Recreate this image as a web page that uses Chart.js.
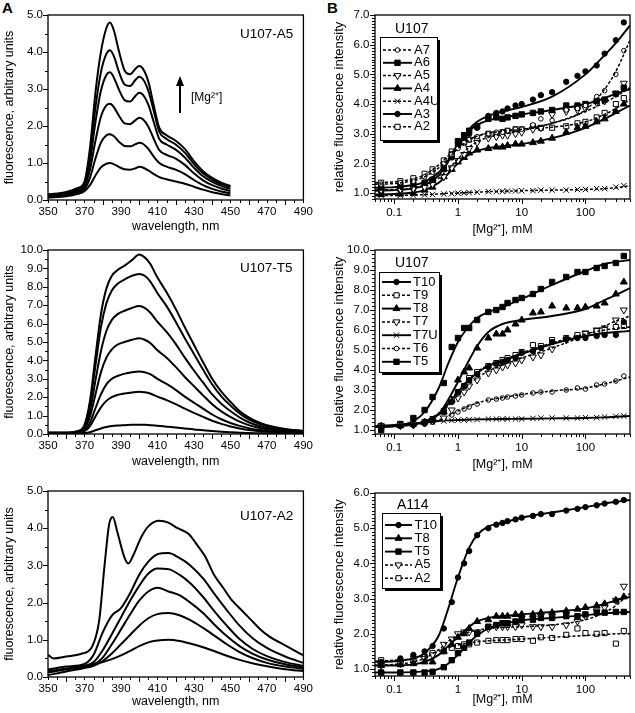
<!DOCTYPE html>
<html>
<head>
<meta charset="utf-8">
<script src="https://cdn.jsdelivr.net/npm/chart.js"></script>
<style>
body { margin: 0; background: #fff; width: 635px; height: 713px; position: relative; overflow: hidden; }
canvas { position: absolute; }
.lbl { position: absolute; font: bold 15px "Liberation Sans", Arial, sans-serif; line-height: 15px; }
</style>
</head>
<body>
<div class="lbl" style="left:2px;top:0px">A</div>
<div class="lbl" style="left:327px;top:0px">B</div>
<script>
// ---- panel A, spectra ----
const specXTicks = [350, 370, 390, 410, 430, 450, 470, 490];
const yTicks5 = [0, 1, 2, 3, 4, 5];
const yTicks10 = [0, 1, 2, 3, 4, 5, 6, 7, 8, 9, 10];

// U107-A5 (1 = lowest Mg2+)
const wlA5 = [350, 360, 366, 370, 373, 376, 379, 382, 384, 386, 389, 392, 395, 398, 400, 402, 405, 408, 411, 415, 420, 425, 430, 435, 440, 445, 450];
const a5_1 = [0.06, 0.1, 0.16, 0.24, 0.4, 0.66, 0.88, 0.98, 1.0, 0.97, 0.89, 0.83, 0.82, 0.86, 0.9, 0.88, 0.8, 0.7, 0.62, 0.56, 0.5, 0.44, 0.36, 0.28, 0.21, 0.16, 0.12];
const a5_2 = [0.08, 0.13, 0.21, 0.3, 0.6, 1.12, 1.55, 1.75, 1.78, 1.73, 1.57, 1.46, 1.45, 1.51, 1.55, 1.52, 1.38, 1.17, 1.0, 0.9, 0.82, 0.7, 0.54, 0.4, 0.3, 0.23, 0.18];
const a5_3 = [0.1, 0.16, 0.25, 0.36, 0.82, 1.6, 2.25, 2.56, 2.6, 2.52, 2.27, 2.07, 2.05, 2.16, 2.22, 2.18, 1.98, 1.65, 1.35, 1.22, 1.12, 0.95, 0.72, 0.53, 0.4, 0.31, 0.24];
const a5_4 = [0.12, 0.18, 0.28, 0.42, 1.05, 2.1, 2.95, 3.38, 3.45, 3.32, 2.97, 2.7, 2.66, 2.82, 2.9, 2.85, 2.58, 2.1, 1.65, 1.5, 1.36, 1.15, 0.87, 0.64, 0.49, 0.38, 0.3];
const a5_5 = [0.14, 0.2, 0.3, 0.46, 1.2, 2.5, 3.45, 3.95, 4.05, 3.9, 3.45, 3.12, 3.08, 3.25, 3.33, 3.27, 2.95, 2.4, 1.85, 1.65, 1.5, 1.28, 0.97, 0.72, 0.55, 0.43, 0.35];
const a5_6 = [0.15, 0.22, 0.32, 0.5, 1.4, 2.9, 4.0, 4.65, 4.8, 4.6, 4.0, 3.5, 3.4, 3.55, 3.62, 3.55, 3.2, 2.55, 1.95, 1.75, 1.6, 1.38, 1.05, 0.78, 0.6, 0.47, 0.38];

// U107-T5
const wlT5 = [350, 360, 366, 370, 373, 376, 379, 382, 385, 388, 392, 396, 400, 403, 406, 410, 415, 420, 425, 430, 435, 440, 445, 450, 455, 460, 465, 470, 480, 490];
const t5_1 = [0.02, 0.02, 0.03, 0.05, 0.1, 0.2, 0.3, 0.38, 0.43, 0.46, 0.48, 0.5, 0.5, 0.5, 0.48, 0.45, 0.4, 0.35, 0.3, 0.25, 0.2, 0.16, 0.12, 0.09, 0.07, 0.05, 0.04, 0.03, 0.02, 0.02];
const t5_2 = [0.03, 0.03, 0.06, 0.15, 0.42, 0.95, 1.45, 1.8, 2.0, 2.12, 2.2, 2.26, 2.3, 2.27, 2.2, 2.03, 1.84, 1.62, 1.38, 1.15, 0.93, 0.72, 0.55, 0.41, 0.3, 0.22, 0.16, 0.12, 0.07, 0.05];
const t5_3 = [0.04, 0.04, 0.08, 0.2, 0.62, 1.4, 2.15, 2.7, 3.0, 3.15, 3.28, 3.36, 3.4, 3.36, 3.25, 3.0, 2.72, 2.4, 2.03, 1.7, 1.38, 1.06, 0.8, 0.6, 0.44, 0.32, 0.23, 0.17, 0.1, 0.07];
const t5_4 = [0.05, 0.05, 0.1, 0.28, 0.95, 2.15, 3.35, 4.15, 4.6, 4.85, 5.0, 5.12, 5.2, 5.12, 4.95, 4.55, 4.15, 3.65, 3.1, 2.6, 2.1, 1.62, 1.23, 0.93, 0.67, 0.48, 0.35, 0.26, 0.15, 0.1];
const t5_5 = [0.06, 0.06, 0.12, 0.36, 1.25, 2.9, 4.5, 5.6, 6.2, 6.5, 6.7, 6.85, 6.95, 6.85, 6.6, 6.1, 5.55, 4.9, 4.15, 3.45, 2.8, 2.15, 1.65, 1.25, 0.9, 0.64, 0.46, 0.34, 0.19, 0.12];
const t5_6 = [0.07, 0.07, 0.14, 0.45, 1.6, 3.7, 5.8, 7.1, 7.8, 8.15, 8.4, 8.6, 8.7, 8.6, 8.3, 7.65, 6.95, 6.1, 5.2, 4.35, 3.5, 2.7, 2.05, 1.55, 1.12, 0.8, 0.58, 0.43, 0.24, 0.15];
const t5_7 = [0.08, 0.08, 0.15, 0.5, 1.8, 4.2, 6.5, 7.9, 8.6, 8.9, 9.15, 9.45, 9.75, 9.6, 9.25, 8.5, 7.7, 6.8, 5.8, 4.85, 3.9, 3.0, 2.3, 1.75, 1.25, 0.9, 0.65, 0.48, 0.27, 0.17];

// U107-A2
const wlA2 = [350, 360, 370, 375, 380, 385, 390, 395, 400, 405, 410, 416, 422, 428, 435, 441, 448, 455, 462, 470, 480, 490];
const a2_1 = [0.15, 0.22, 0.3, 0.34, 0.4, 0.48, 0.58, 0.7, 0.83, 0.93, 0.98, 1.0, 0.97, 0.9, 0.8, 0.7, 0.57, 0.46, 0.37, 0.29, 0.21, 0.16];
const a2_2 = [0.05, 0.15, 0.24, 0.3, 0.43, 0.63, 0.88, 1.13, 1.38, 1.58, 1.69, 1.72, 1.66, 1.53, 1.32, 1.12, 0.88, 0.67, 0.51, 0.38, 0.28, 0.22];
const a2_3 = [0.12, 0.2, 0.27, 0.33, 0.52, 0.88, 1.28, 1.68, 2.05, 2.3, 2.4, 2.3, 2.2, 2.0, 1.72, 1.42, 1.1, 0.83, 0.63, 0.47, 0.34, 0.26];
const a2_4 = [0.15, 0.22, 0.3, 0.4, 0.72, 1.15, 1.6, 2.05, 2.45, 2.78, 2.92, 2.9, 2.75, 2.52, 2.15, 1.78, 1.38, 1.02, 0.76, 0.56, 0.4, 0.3];
const a2_5 = [0.2, 0.28, 0.35, 0.6, 1.2, 1.65, 1.85, 2.25, 2.75, 3.1, 3.3, 3.33, 3.2, 3.0, 2.65, 2.25, 1.8, 1.38, 1.05, 0.78, 0.55, 0.38];
const wlA2top = [350, 353, 360, 368, 374, 378, 381, 383.5, 385.5, 388, 392, 394, 397, 401, 405, 411, 416, 421, 427, 431, 436, 441, 446, 451, 456, 461, 466, 471, 480, 490];
const a2_6 = [0.6, 0.5, 0.55, 0.62, 0.8, 1.5, 3.0, 4.1, 4.3, 3.9, 3.2, 3.05, 3.3, 3.75, 4.05, 4.2, 4.15, 4.0, 3.85, 3.6, 3.25, 2.75, 2.4, 2.05, 1.8, 1.55, 1.3, 1.1, 0.85, 0.58];

// ---- panel B, Mg2+ titrations ----
const logXTicks = [0.1, 1, 10, 100];
const bY1Ticks = [1, 2, 3, 4, 5, 6, 7];
const bY2Ticks = [1, 2, 3, 4, 5, 6, 7, 8, 9, 10];
const bY3Ticks = [1, 2, 3, 4, 5, 6];
const mgConc = [0.0625, 0.125, 0.2, 0.3, 0.4, 0.6, 0.8, 1, 1.25, 1.5, 2, 3, 4, 5, 6, 8, 10, 15, 20, 30, 50, 75, 100, 150, 200, 300, 400];
const fitConc = [0.05, 0.1, 0.2, 0.3, 0.5, 0.7, 1, 1.5, 2, 3, 5, 10, 30, 100, 200, 300, 500];

// U107, A series
const u107A7 = [1.3, 1.35, 1.4, 1.55, 1.7, 2.0, 2.3, 2.5, 2.7, 2.8, 2.9, 3.0, 3.05, 3.05, 3.1, 3.15, 3.15, 3.3, 3.5, 3.45, 3.8, 3.85, 3.95, 4.25, 4.45, 5.0, 5.8];
const u107A7fit = [1.3, 1.32, 1.42, 1.55, 1.85, 2.15, 2.5, 2.8, 2.92, 3.02, 3.08, 3.15, 3.35, 3.8, 4.5, 5.1, 6.15];
const u107A6 = [1.2, 1.25, 1.3, 1.35, 1.45, 1.9, 2.3, 2.75, 2.95, 3.1, 3.25, 3.5, 3.55, 3.5, 3.55, 3.6, 3.65, 3.7, 3.75, 3.8, 3.95, 3.95, 4.0, 4.1, 4.15, 4.35, 4.55];
const u107A6fit = [1.18, 1.2, 1.27, 1.38, 1.7, 2.1, 2.65, 3.1, 3.3, 3.45, 3.55, 3.65, 3.8, 4.0, 4.2, 4.35, 4.5];
const u107A5 = [1.1, 1.12, 1.15, 1.2, 1.3, 1.55, 1.85, 2.1, 2.3, 2.5, 2.7, 2.85, 2.9, 2.95, 2.95, 3.0, 3.05, 3.15, 3.2, 3.65, 3.75, 3.8, 3.85, 4.05, 4.1, 4.35, 4.7];
const u107A5fit = [1.1, 1.12, 1.17, 1.25, 1.5, 1.8, 2.15, 2.55, 2.72, 2.88, 2.98, 3.1, 3.35, 3.75, 4.05, 4.25, 4.55];
const u107A4 = [0.95, 0.97, 1.0, 1.1, 1.2, 1.55, 1.8, 2.05, 2.2, 2.35, 2.45, 2.5, 2.55, 2.55, 2.6, 2.65, 2.65, 2.7, 2.75, 2.85, 3.05, 3.2, 3.25, 3.4, 3.5, 3.75, 4.0];
const u107A4fit = [0.95, 0.97, 1.02, 1.1, 1.35, 1.65, 2.0, 2.3, 2.42, 2.52, 2.58, 2.65, 2.85, 3.2, 3.5, 3.7, 3.95];
const u107A4U = [0.92, 0.92, 0.93, 0.94, 0.95, 0.97, 0.98, 1.0, 1.0, 1.02, 1.03, 1.05, 1.05, 1.06, 1.07, 1.07, 1.08, 1.08, 1.1, 1.1, 1.1, 1.12, 1.12, 1.15, 1.15, 1.2, 1.25];
const u107A4Ufit = [0.92, 0.92, 0.93, 0.95, 0.97, 0.99, 1.0, 1.02, 1.03, 1.05, 1.06, 1.08, 1.1, 1.12, 1.15, 1.18, 1.25];
const u107A3 = [1.05, 1.1, 1.15, 1.25, 1.4, 1.8, 2.2, 2.6, 2.8, 3.0, 3.2, 3.6, 3.7, 3.75, 3.85, 3.95, 4.0, 4.15, 4.3, 4.4, 4.75, 4.95, 5.1, 5.3, 5.7, 6.15, 6.75];
const u107A3fit = [1.08, 1.1, 1.16, 1.27, 1.6, 2.05, 2.6, 3.15, 3.4, 3.6, 3.75, 3.9, 4.25, 5.0, 5.65, 6.05, 6.65];
const u107A2 = [1.35, 1.4, 1.5, 1.65, 1.8, 2.1, 2.4, 2.6, 2.7, 2.8, 2.85, 3.0, 3.0, 3.05, 3.1, 3.15, 3.15, 3.25, 3.2, 3.2, 3.25, 3.35, 3.4, 3.55, 3.7, 4.0, 4.2];
const u107A2fit = [1.35, 1.38, 1.48, 1.62, 1.95, 2.25, 2.55, 2.8, 2.92, 3.03, 3.1, 3.15, 3.22, 3.4, 3.65, 3.85, 4.15];

// U107, T series
const u107T10 = [1.15, 1.2, 1.25, 1.35, 1.5, 1.9, 2.4, 2.9, 3.2, 3.5, 3.8, 4.15, 4.3, 4.4, 4.5, 4.6, 4.85, 4.95, 5.1, 5.4, 5.55, 5.6, 5.6, 5.7, 5.75, 5.75, 6.4];
const u107T10fit = [1.15, 1.18, 1.27, 1.42, 1.8, 2.3, 2.9, 3.5, 3.85, 4.2, 4.45, 4.8, 5.3, 5.7, 5.85, 5.9, 5.95];
const u107T9 = [1.2, 1.25, 1.3, 1.4, 1.55, 1.95, 2.5, 2.9, 3.2, 3.6, 3.9, 4.2, 4.35, 4.5, 4.6, 4.75, 4.9, 5.25, 5.2, 5.5, 5.6, 5.75, 5.8, 5.95, 6.0, 6.15, 6.2];
const u107T9fit = [1.2, 1.22, 1.3, 1.45, 1.85, 2.35, 2.95, 3.55, 3.9, 4.25, 4.5, 4.85, 5.35, 5.8, 6.0, 6.08, 6.15];
const u107T8 = [1.2, 1.22, 1.3, 1.4, 1.5, 1.9, 2.5, 3.5, 3.9, 4.1, 5.1, 5.6, 5.8, 5.8, 6.0, 6.3, 6.5, 6.85, 6.9, 7.2, 7.1, 7.1, 7.15, 7.2, 7.35, 7.8, 8.4];
const u107T8fit = [1.2, 1.22, 1.3, 1.42, 1.8, 2.5, 3.4, 4.5, 5.2, 5.9, 6.3, 6.5, 6.7, 7.05, 7.5, 7.75, 8.1];
const u107T7 = [1.2, 1.22, 1.25, 1.35, 1.45, 1.6, 2.0, 2.6, 2.9, 3.2, 3.5, 3.85, 4.0, 4.15, 4.25, 4.35, 4.5, 4.65, 4.75, 5.05, 5.5, 5.65, 5.85, 6.0, 6.1, 6.5, 7.0];
const u107T7fit = [1.2, 1.22, 1.28, 1.4, 1.75, 2.2, 2.75, 3.3, 3.6, 3.95, 4.25, 4.6, 5.1, 5.75, 6.2, 6.45, 6.7];
const u107T7U = [1.2, 1.25, 1.3, 1.35, 1.4, 1.45, 1.48, 1.5, 1.5, 1.52, 1.52, 1.55, 1.55, 1.55, 1.55, 1.55, 1.55, 1.58, 1.6, 1.6, 1.6, 1.6, 1.62, 1.62, 1.65, 1.68, 1.7];
const u107T7Ufit = [1.2, 1.25, 1.32, 1.38, 1.45, 1.48, 1.5, 1.52, 1.53, 1.54, 1.55, 1.56, 1.58, 1.6, 1.63, 1.66, 1.7];
const u107T6 = [1.2, 1.22, 1.25, 1.3, 1.4, 1.55, 1.75, 1.9, 2.05, 2.15, 2.3, 2.5, 2.55, 2.6, 2.65, 2.7, 2.75, 2.85, 2.9, 2.9, 3.0, 3.1, 3.05, 3.25, 3.3, 3.45, 3.7];
const u107T6fit = [1.2, 1.22, 1.27, 1.33, 1.5, 1.7, 1.95, 2.2, 2.35, 2.5, 2.62, 2.78, 2.95, 3.1, 3.3, 3.45, 3.65];
const u107T5 = [1.0, 1.3, 1.6, 2.0, 2.65, 3.35, 5.15, 5.6, 6.1, 6.1, 6.5, 6.9, 7.0, 7.15, 7.35, 7.5, 7.6, 7.8, 8.05, 8.4, 8.65, 8.9, 8.9, 9.1, 9.2, 9.35, 9.7];
const u107T5fit = [1.15, 1.2, 1.45, 1.9, 3.1, 4.3, 5.4, 6.2, 6.6, 6.9, 7.15, 7.55, 8.25, 8.95, 9.3, 9.4, 9.5];

// A114
const a114T10 = [1.2, 1.3, 1.4, 1.5, 1.65, 2.15, 2.9, 3.6, 4.0, 4.35, 4.8, 5.0, 5.1, 5.15, 5.2, 5.25, 5.3, 5.35, 5.4, 5.4, 5.5, 5.55, 5.6, 5.65, 5.7, 5.75, 5.8];
const a114T10fit = [1.2, 1.22, 1.3, 1.45, 1.95, 2.7, 3.6, 4.45, 4.8, 5.05, 5.15, 5.3, 5.45, 5.6, 5.7, 5.75, 5.8];
const a114T8 = [1.1, 1.12, 1.15, 1.2, 1.2, 1.5, 1.7, 1.9, 2.0, 2.15, 2.35, 2.4, 2.5, 2.5, 2.5, 2.55, 2.55, 2.55, 2.6, 2.6, 2.65, 2.7, 2.75, 2.8, 2.85, 2.95, 3.05];
const a114T8fit = [1.1, 1.1, 1.13, 1.2, 1.4, 1.65, 1.9, 2.2, 2.35, 2.45, 2.5, 2.55, 2.62, 2.72, 2.85, 2.95, 3.05];
const a114T5 = [0.9, 0.9, 0.9, 0.9, 0.92, 1.05, 1.25, 1.45, 1.6, 1.75, 2.0, 2.2, 2.25, 2.3, 2.3, 2.35, 2.4, 2.4, 2.45, 2.45, 2.5, 2.5, 2.55, 2.6, 2.6, 2.62, 2.62];
const a114T5fit = [0.9, 0.9, 0.91, 0.93, 1.0, 1.15, 1.4, 1.75, 1.95, 2.15, 2.27, 2.38, 2.45, 2.53, 2.58, 2.6, 2.62];
const a114A5 = [1.1, 1.15, 1.2, 1.3, 1.4, 1.7, 1.85, 2.0, 2.05, 2.05, 2.05, 2.15, 2.2, 2.2, 2.2, 2.2, 2.25, 2.2, 2.2, 2.2, 2.25, 2.35, 2.5, 2.65, 2.75, 2.95, 3.35];
const a114A5fit = [1.1, 1.13, 1.2, 1.3, 1.55, 1.78, 1.95, 2.05, 2.1, 2.15, 2.18, 2.2, 2.25, 2.4, 2.6, 2.8, 3.15];
const a114A2 = [1.25, 1.2, 1.3, 1.35, 1.45, 1.5, 1.6, 1.65, 1.7, 1.7, 1.75, 1.8, 1.82, 1.82, 1.82, 1.85, 1.85, 1.8, 1.9, 1.88, 1.97, 2.15, 2.02, 2.0, 2.02, 1.72, 2.08];
const a114A2fit = [1.22, 1.25, 1.3, 1.38, 1.5, 1.6, 1.68, 1.74, 1.77, 1.8, 1.82, 1.85, 1.9, 1.95, 1.98, 2.0, 2.0];

const FONT = '"Liberation Sans", Arial, sans-serif';
Chart.defaults.font.family = FONT;
Chart.defaults.color = '#000';

const markers = {
  dot:     { style: 'circle',    r: 2.7, fill: '#000' },
  square:  { style: 'rect',      r: 3.8, fill: '#000' },
  ring:    { style: 'circle',    r: 2.3, fill: '#fff' },
  tri:     { style: 'triangle',  r: 4.0, fill: '#000' },
  triDown: { style: 'triangle',  r: 4.0, fill: '#fff', rot: 180 },
  cross:   { style: 'crossRot',  r: 3.8, fill: '#000' },
  box:     { style: 'rect',      r: 3.6, fill: '#fff' }
};

function xy(xs, ys) { return ys.map((v, i) => ({ x: xs[i], y: v })); }

function spectra(xs, list) {
  return list.map(ys => ({
    data: xy(xs, ys), borderColor: '#000', borderWidth: 2,
    pointRadius: 0, cubicInterpolationMode: 'monotone', fill: false
  }));
}

function titration(series) {
  const out = [];
  series.forEach(s => {
    const m = markers[s.mk];
    out.push({
      label: s.label, isFit: true, mk: s.mk,
      data: xy(fitConc, s.fit), borderColor: '#000',
      borderWidth: s.dash ? 1.5 : 1.9, borderDash: s.dash ? [3, 2] : [],
      pointRadius: 0, cubicInterpolationMode: 'monotone'
    });
    out.push({
      data: xy(mgConc, s.pts), showLine: false,
      pointStyle: m.style, pointRadius: m.r, pointRotation: m.rot || 0,
      pointBackgroundColor: m.fill, pointBorderColor: '#000', pointBorderWidth: 1
    });
  });
  return out;
}

function tickValues(scale, minor, major) {
  const out = [];
  if (minor === 'log') {
    for (let d = Math.floor(Math.log10(scale.min)); d <= Math.ceil(Math.log10(scale.max)); d++) {
      for (let k = 1; k < 10; k++) {
        const v = k * Math.pow(10, d);
        if (v >= scale.min * 0.999 && v <= scale.max * 1.001) out.push([v, k === 1]);
      }
    }
  } else {
    const n0 = Math.ceil(scale.min / minor - 1e-6), n1 = Math.floor(scale.max / minor + 1e-6);
    for (let n = n0; n <= n1; n++) {
      const v = n * minor;
      out.push([v, Math.abs(v / major - Math.round(v / major)) < 1e-6]);
    }
  }
  return out;
}

// box frame and outward ticks
const frameTicks = {
  id: 'frameTicks',
  afterDatasetsDraw(chart, args, o) {
    const { ctx, chartArea: a, scales: { x, y } } = chart;
    ctx.save();
    ctx.strokeStyle = '#000';
    ctx.lineWidth = 1.3;
    ctx.strokeRect(a.left, a.top, a.right - a.left, a.bottom - a.top);
    ctx.lineWidth = 1;
    ctx.beginPath();
    tickValues(x, o.xMinor, o.xMajor).forEach(([v, major]) => {
      const px = Math.round(x.getPixelForValue(v)) + 0.5;
      ctx.moveTo(px, a.bottom);
      ctx.lineTo(px, a.bottom + (major ? 5 : 3));
    });
    tickValues(y, o.yMinor, o.yMajor).forEach(([v, major]) => {
      const py = Math.round(y.getPixelForValue(v)) + 0.5;
      ctx.moveTo(a.left, py);
      ctx.lineTo(a.left - (major ? 5 : 3), py);
    });
    ctx.stroke();
    ctx.restore();
  }
};

// legend box with shadow, drawn from the fit datasets
const boxLegend = {
  id: 'boxLegend',
  afterDraw(chart, args, o) {
    if (!o.title) return;
    const ctx = chart.ctx;
    ctx.save();
    ctx.fillStyle = '#000';
    ctx.fillRect(o.x + 3, o.y + 3, o.w, o.h);
    ctx.fillStyle = '#fff';
    ctx.fillRect(o.x, o.y, o.w, o.h);
    ctx.strokeStyle = '#000';
    ctx.lineWidth = 1;
    ctx.strokeRect(o.x + 0.5, o.y + 0.5, o.w, o.h);
    ctx.fillStyle = '#000';
    ctx.textBaseline = 'middle';
    ctx.font = '14px ' + FONT;
    ctx.fillText(o.title, o.titleX, o.titleY);
    ctx.font = '13px ' + FONT;
    chart.data.datasets.filter(d => d.isFit).forEach((d, i) => {
      const yy = o.first + i * o.row;
      ctx.beginPath();
      ctx.setLineDash(d.borderDash);
      ctx.lineWidth = d.borderWidth;
      ctx.moveTo(o.x0, yy);
      ctx.lineTo(o.x1, yy);
      ctx.stroke();
      ctx.setLineDash([]);
      const m = markers[d.mk];
      ctx.fillStyle = m.fill;
      ctx.lineWidth = 1;
      Chart.helpers.drawPoint(ctx, { pointStyle: m.style, radius: m.r, rotation: m.rot || 0, borderWidth: 1 }, (o.x0 + o.x1) / 2, yy);
      ctx.fillStyle = '#000';
      ctx.fillText(d.label, o.textX, yy);
    });
    ctx.restore();
  }
};

// panel labels and arrow
const notes = {
  id: 'notes',
  afterDraw(chart, args, o) {
    const ctx = chart.ctx;
    ctx.save();
    ctx.fillStyle = '#000';
    ctx.strokeStyle = '#000';
    ctx.textBaseline = 'middle';
    (o.texts || []).forEach(t => {
      ctx.font = t.size + 'px ' + FONT;
      ctx.fillText(t.t, t.x, t.y);
    });
    if (o.arrow) {
      const r = o.arrow;
      ctx.lineWidth = 2;
      ctx.beginPath();
      ctx.moveTo(r.x, r.y1);
      ctx.lineTo(r.x, r.y2 + 6);
      ctx.stroke();
      ctx.beginPath();
      ctx.moveTo(r.x, r.y2);
      ctx.lineTo(r.x - 4, r.y2 + 10);
      ctx.lineTo(r.x + 4, r.y2 + 10);
      ctx.closePath();
      ctx.fill();
    }
    ctx.restore();
  }
};

function panel(p) {
  const cv = document.createElement('canvas');
  cv.width = p.w;
  cv.height = p.h;
  cv.style.left = p.left + 'px';
  cv.style.top = p.top + 'px';
  document.body.appendChild(cv);
  return new Chart(cv, {
    type: 'line',
    data: { datasets: p.datasets },
    options: {
      responsive: false,
      animation: false,
      devicePixelRatio: 1,
      events: [],
      layout: { padding: { left: 0, top: p.area.top, right: p.w - p.area.right, bottom: 0 } },
      plugins: {
        legend: { display: false },
        tooltip: { enabled: false },
        frameTicks: p.ticks,
        boxLegend: p.legend || {},
        notes: p.notes || {}
      },
      scales: {
        x: {
          type: p.xLog ? 'logarithmic' : 'linear',
          min: p.xMin, max: p.xMax,
          grid: { display: false, drawTicks: false }, border: { display: false },
          afterBuildTicks: s => { s.ticks = p.xTicks.map(v => ({ value: v })); },
          afterFit: s => { s.height = p.h - p.area.bottom; },
          ticks: { autoSkip: false, maxRotation: 0, padding: p.xPad, font: { size: 11.5 }, callback: v => String(v) },
          title: { display: true, text: p.xTitle, font: { size: 12.5 }, padding: { top: 0, bottom: 0.5 } }
        },
        y: {
          min: p.yMin, max: p.yMax,
          grid: { display: false, drawTicks: false }, border: { display: false },
          afterBuildTicks: s => { s.ticks = p.yTicks.map(v => ({ value: v })); },
          afterFit: s => { s.width = p.area.left; },
          ticks: { autoSkip: false, padding: p.yPad, font: { size: 11.5 }, callback: v => Number(v).toFixed(1) },
          title: { display: true, text: p.yTitle, font: { size: p.yTitleSize }, padding: { top: p.yTitlePad, bottom: 0 } }
        }
      }
    },
    plugins: [frameTicks, boxLegend, notes]
  });
}

const specCommon = {
  w: 318, xMin: 350, xMax: 490, xTicks: specXTicks, xPad: 5, yPad: 5,
  xTitle: 'wavelength, nm', yTitle: 'fluorescence, arbitrary units', yTitleSize: 12.5, yTitlePad: 2.5
};

panel(Object.assign({}, specCommon, {
  left: 0, top: 0, h: 235, area: { left: 48, top: 15, right: 306, bottom: 200 },
  yMin: 0, yMax: 5, yTicks: yTicks5,
  ticks: { xMinor: 5, xMajor: 20, yMinor: 0.5, yMajor: 1 },
  datasets: spectra(wlA5, [a5_1, a5_2, a5_3, a5_4, a5_5, a5_6]),
  notes: {
    texts: [{ t: 'U107-A5', x: 240, y: 34, size: 13.5 }, { t: '[Mg²⁺]', x: 191, y: 98, size: 12 }],
    arrow: { x: 180, y1: 113, y2: 76 }
  }
}));

panel(Object.assign({}, specCommon, {
  left: 0, top: 235, h: 235, area: { left: 48, top: 15, right: 306, bottom: 199 },
  yMin: 0, yMax: 10, yTicks: yTicks10,
  ticks: { xMinor: 5, xMajor: 20, yMinor: 0.5, yMajor: 1 },
  datasets: spectra(wlT5, [t5_1, t5_2, t5_3, t5_4, t5_5, t5_6, t5_7]),
  notes: { texts: [{ t: 'U107-T5', x: 240, y: 33, size: 13.5 }] }
}));

const a2Sets = spectra(wlA2, [a2_1, a2_2, a2_3, a2_4, a2_5]).concat(spectra(wlA2top, [a2_6]));
panel(Object.assign({}, specCommon, {
  left: 0, top: 470, h: 240, area: { left: 48, top: 21, right: 306, bottom: 207 },
  yMin: 0, yMax: 5, yTicks: yTicks5,
  ticks: { xMinor: 5, xMajor: 20, yMinor: 0.5, yMajor: 1 },
  datasets: a2Sets,
  notes: { texts: [{ t: 'U107-A2', x: 240, y: 46, size: 13.5 }] }
}));

const titCommon = {
  w: 317, h: 238, xLog: true, xMin: 0.05, xMax: 500, xTicks: logXTicks, xPad: 7, yPad: 5.5,
  xTitle: '[Mg²⁺], mM', yTitle: 'relative fluorescence intensity', yTitleSize: 13, yTitlePad: 14
};

panel(Object.assign({}, titCommon, {
  left: 318, top: 0, area: { left: 57, top: 15, right: 315, bottom: 199 },
  yMin: 0.8, yMax: 7, yTicks: bY1Ticks,
  ticks: { xMinor: 'log', yMinor: 0.1, yMajor: 1 },
  datasets: titration([
    { label: 'A7', pts: u107A7, fit: u107A7fit, mk: 'ring', dash: true },
    { label: 'A6', pts: u107A6, fit: u107A6fit, mk: 'square' },
    { label: 'A5', pts: u107A5, fit: u107A5fit, mk: 'triDown', dash: true },
    { label: 'A4', pts: u107A4, fit: u107A4fit, mk: 'tri' },
    { label: 'A4U', pts: u107A4U, fit: u107A4Ufit, mk: 'cross', dash: true },
    { label: 'A3', pts: u107A3, fit: u107A3fit, mk: 'dot' },
    { label: 'A2', pts: u107A2, fit: u107A2fit, mk: 'box', dash: true }
  ]),
  legend: { title: 'U107', titleX: 77, titleY: 29, x: 62, y: 37, w: 57, h: 103, first: 50, row: 12.8, x0: 65, x1: 94, textX: 96 }
}));

panel(Object.assign({}, titCommon, {
  left: 318, top: 235, area: { left: 57, top: 15, right: 315, bottom: 199 },
  yMin: 0.8, yMax: 10, yTicks: bY2Ticks,
  ticks: { xMinor: 'log', yMinor: 0.2, yMajor: 1 },
  datasets: titration([
    { label: 'T10', pts: u107T10, fit: u107T10fit, mk: 'dot' },
    { label: 'T9', pts: u107T9, fit: u107T9fit, mk: 'box', dash: true },
    { label: 'T8', pts: u107T8, fit: u107T8fit, mk: 'tri' },
    { label: 'T7', pts: u107T7, fit: u107T7fit, mk: 'triDown', dash: true },
    { label: 'T7U', pts: u107T7U, fit: u107T7Ufit, mk: 'cross' },
    { label: 'T6', pts: u107T6, fit: u107T6fit, mk: 'ring', dash: true },
    { label: 'T5', pts: u107T5, fit: u107T5fit, mk: 'square' }
  ]),
  legend: { title: 'U107', titleX: 77, titleY: 28, x: 61, y: 37, w: 60, h: 100, first: 47, row: 13.3, x0: 64, x1: 93, textX: 95 }
}));

panel(Object.assign({}, titCommon, {
  left: 318, top: 470, area: { left: 57, top: 23, right: 315, bottom: 206 },
  yMin: 0.8, yMax: 6, yTicks: bY3Ticks,
  ticks: { xMinor: 'log', yMinor: 0.1, yMajor: 1 },
  datasets: titration([
    { label: 'T10', pts: a114T10, fit: a114T10fit, mk: 'dot' },
    { label: 'T8', pts: a114T8, fit: a114T8fit, mk: 'tri' },
    { label: 'T5', pts: a114T5, fit: a114T5fit, mk: 'square' },
    { label: 'A5', pts: a114A5, fit: a114A5fit, mk: 'triDown', dash: true },
    { label: 'A2', pts: a114A2, fit: a114A2fit, mk: 'box', dash: true }
  ]),
  legend: { title: 'A114', titleX: 79, titleY: 35, x: 64, y: 43, w: 58, h: 75, first: 55, row: 13.3, x0: 67, x1: 94, textX: 96.5 }
}));
</script>
</body>
</html>
